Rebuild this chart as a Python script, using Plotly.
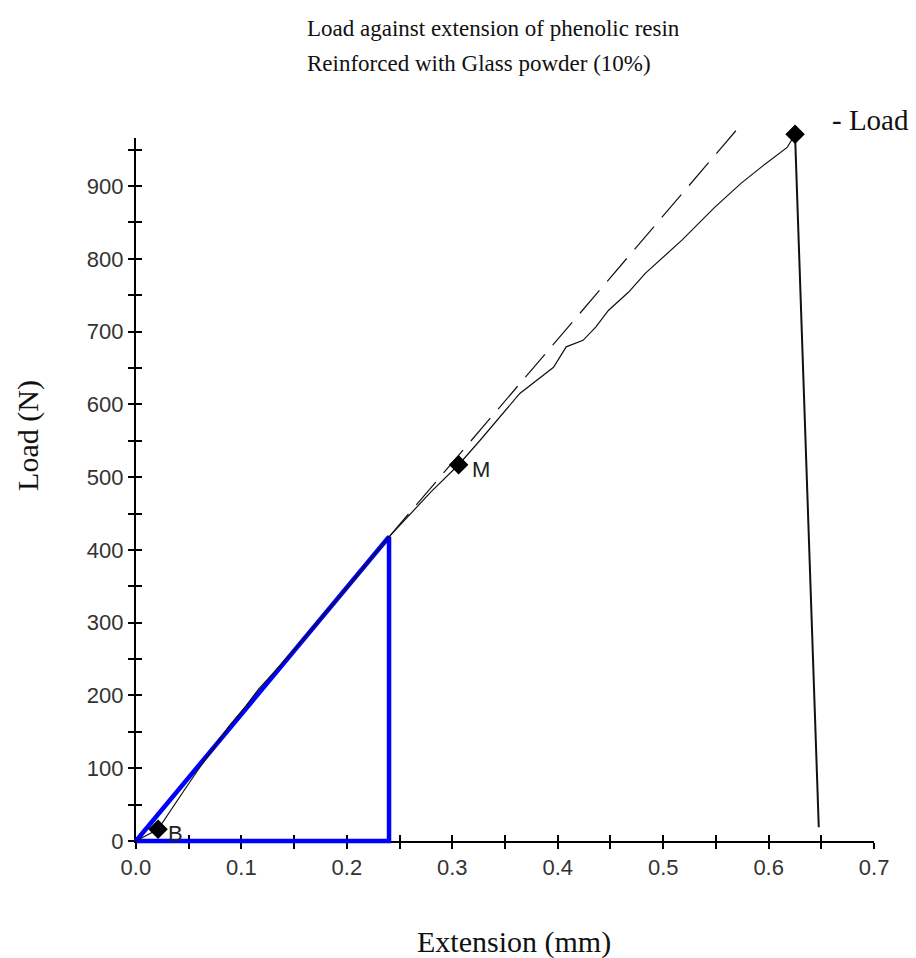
import plotly.graph_objects as go

# ---------------- data ----------------
extension = [0.0, 0.021, 0.045, 0.06, 0.088, 0.104, 0.1165, 0.15, 0.2, 0.24,
             0.28, 0.306, 0.326, 0.364, 0.396, 0.408, 0.424, 0.436, 0.448, 0.467,
             0.483, 0.518, 0.549, 0.574, 0.593, 0.6175, 0.625, 0.6475]
load = [0, 16, 68, 100, 157, 185, 209, 262, 348, 418,
        480, 517, 550, 615, 651, 679, 688, 706, 729, 754,
        780, 826, 871, 904, 926, 953, 971, 19]

tangent_x = [0.24, 0.573]
tangent_y = [418, 983]

triangle_x = [0.0, 0.24, 0.24, 0.0]
triangle_y = [0, 418, 0, 0]

marker_x = [0.021, 0.306, 0.625]
marker_y = [16, 517, 971]
marker_labels = ["B", "M", "- Load"]

x_ticks = [0.0, 0.1, 0.2, 0.3, 0.4, 0.5, 0.6, 0.7]
y_ticks = [0, 100, 200, 300, 400, 500, 600, 700, 800, 900]

# ---------------- layout geometry ----------------
W, H = 916, 958
ML, MR, MT, MB = 126, 20, 115, 107
PL, PR = ML, W - MR          # paper plot area in px
PT, PB = MT, H - MB
AX_L, AX_R = 136, 881        # x axis pixel span for [0, 0.7]
AX_B, AX_T = 841, 138        # y axis pixel span for [0, 966]
X_MAX, Y_MAX = 0.7, 966

pw, ph = PR - PL, PB - PT
sx = (AX_R - AX_L) / X_MAX
sy = (AX_B - AX_T) / Y_MAX


def px(x):
    return (x - PL) / pw


def py(y):
    return (PB - y) / ph


x2_range = [-(AX_L - PL) / sx, X_MAX + (PR - AX_R) / sx]
y2_range = [-(PB - AX_B) / sy, Y_MAX + (AX_T - PT) / sy]

serif = "Liberation Serif, Times New Roman, serif"
sans = "Liberation Sans, Arial, sans-serif"

fig = go.Figure()

# empty traces so the visible axes (and their inner tick halves) are rendered
fig.add_trace(go.Scatter(x=[], y=[], xaxis="x", yaxis="y", showlegend=False))
fig.add_trace(go.Scatter(x=[], y=[], xaxis="x3", yaxis="y3", showlegend=False))

fig.add_trace(go.Scatter(
    x=triangle_x, y=triangle_y, mode="lines", xaxis="x2", yaxis="y2",
    line=dict(color="#0000ff", width=4.5), showlegend=False, hoverinfo="skip"))

fig.add_trace(go.Scatter(
    x=tangent_x, y=tangent_y, mode="lines", xaxis="x2", yaxis="y2",
    line=dict(color="#111111", width=1.2, dash="30px,12px"),
    showlegend=False, hoverinfo="skip"))

fig.add_trace(go.Scatter(
    x=extension[:-1], y=load[:-1], mode="lines", xaxis="x2", yaxis="y2",
    line=dict(color="#111111", width=1.2), showlegend=False))

fig.add_trace(go.Scatter(
    x=extension[-2:], y=load[-2:], mode="lines", xaxis="x2", yaxis="y2",
    line=dict(color="#111111", width=2), showlegend=False))

fig.add_trace(go.Scatter(
    x=marker_x, y=marker_y, mode="markers", xaxis="x2", yaxis="y2",
    marker=dict(symbol="diamond", size=15, color="black"),
    showlegend=False, cliponaxis=False))

annotations = [
    dict(x=marker_x[0], y=marker_y[0], xref="x2", yref="y2", text=marker_labels[0],
         showarrow=False, xanchor="left", yanchor="middle", xshift=8, yshift=-4,
         font=dict(family=sans, size=22, color="#222222")),
    dict(x=marker_x[1], y=marker_y[1], xref="x2", yref="y2", text=marker_labels[1],
         showarrow=False, xanchor="left", yanchor="middle", xshift=11, yshift=-5,
         font=dict(family=sans, size=22, color="#222222")),
    dict(x=marker_x[2], y=marker_y[2], xref="x2", yref="y2", text=marker_labels[2],
         showarrow=False, xanchor="left", yanchor="middle", xshift=35, yshift=14,
         font=dict(family=serif, size=29, color="#111111")),
    dict(x=px(307), y=py(28), xref="paper", yref="paper",
         text="Load against extension of phenolic resin", showarrow=False,
         xanchor="left", yanchor="middle", font=dict(family=serif, size=23, color="#111111")),
    dict(x=px(307), y=py(64), xref="paper", yref="paper",
         text="Reinforced with Glass powder (10%)", showarrow=False,
         xanchor="left", yanchor="middle", font=dict(family=serif, size=23, color="#111111")),
    dict(x=px(518), y=py(942), xref="paper", yref="paper",
         text="Extension (mm)", showarrow=False,
         xanchor="center", yanchor="middle", font=dict(family=serif, size=30, color="#111111")),
    dict(x=px(27), y=py(435), xref="paper", yref="paper",
         text="Load (N)", showarrow=False, textangle=-90,
         xanchor="center", yanchor="middle", font=dict(family=serif, size=30, color="#111111")),
]

tick_style = dict(ticklen=6, tickwidth=1.5, tickcolor="black")

fig.update_layout(
    width=W, height=H,
    margin=dict(l=ML, r=MR, t=MT, b=MB, pad=0),
    paper_bgcolor="white", plot_bgcolor="rgba(0,0,0,0)",
    showlegend=False,
    xaxis=dict(
        domain=[px(AX_L), px(AX_R)], range=[0, X_MAX], anchor="y",
        tickvals=x_ticks, ticktext=[f"{v:.1f}" for v in x_ticks],
        showline=True, linecolor="black", linewidth=2,
        ticks="outside", **tick_style,
        minor=dict(dtick=0.05, ticks="outside", **tick_style),
        showgrid=False, zeroline=False,
        tickfont=dict(family=sans, size=22, color="#333333"),
    ),
    yaxis=dict(
        domain=[py(AX_B), py(AX_T)], range=[0, Y_MAX], anchor="x",
        tickvals=y_ticks,
        showline=True, linecolor="black", linewidth=2,
        ticks="outside", **tick_style,
        minor=dict(dtick=50, ticks="outside", **tick_style),
        showgrid=False, zeroline=False,
        tickfont=dict(family=sans, size=22, color="#333333"),
    ),
    xaxis3=dict(
        overlaying="x", range=[0, X_MAX], anchor="y3", side="bottom",
        tickvals=x_ticks, showticklabels=False, showline=False,
        ticks="inside", **tick_style,
        minor=dict(dtick=0.05, ticks="inside", **tick_style),
        showgrid=False, zeroline=False,
    ),
    yaxis3=dict(
        overlaying="y", range=[0, Y_MAX], anchor="x3", side="left",
        tickvals=y_ticks, showticklabels=False, showline=False,
        ticks="inside", **tick_style,
        minor=dict(dtick=50, ticks="inside", **tick_style),
        showgrid=False, zeroline=False,
    ),
    xaxis2=dict(domain=[0, 1], range=x2_range, anchor="y2", visible=False,
                showgrid=False, zeroline=False),
    yaxis2=dict(domain=[0, 1], range=y2_range, anchor="x2", visible=False,
                showgrid=False, zeroline=False),
    annotations=annotations,
)

fig.write_html("out.html")
